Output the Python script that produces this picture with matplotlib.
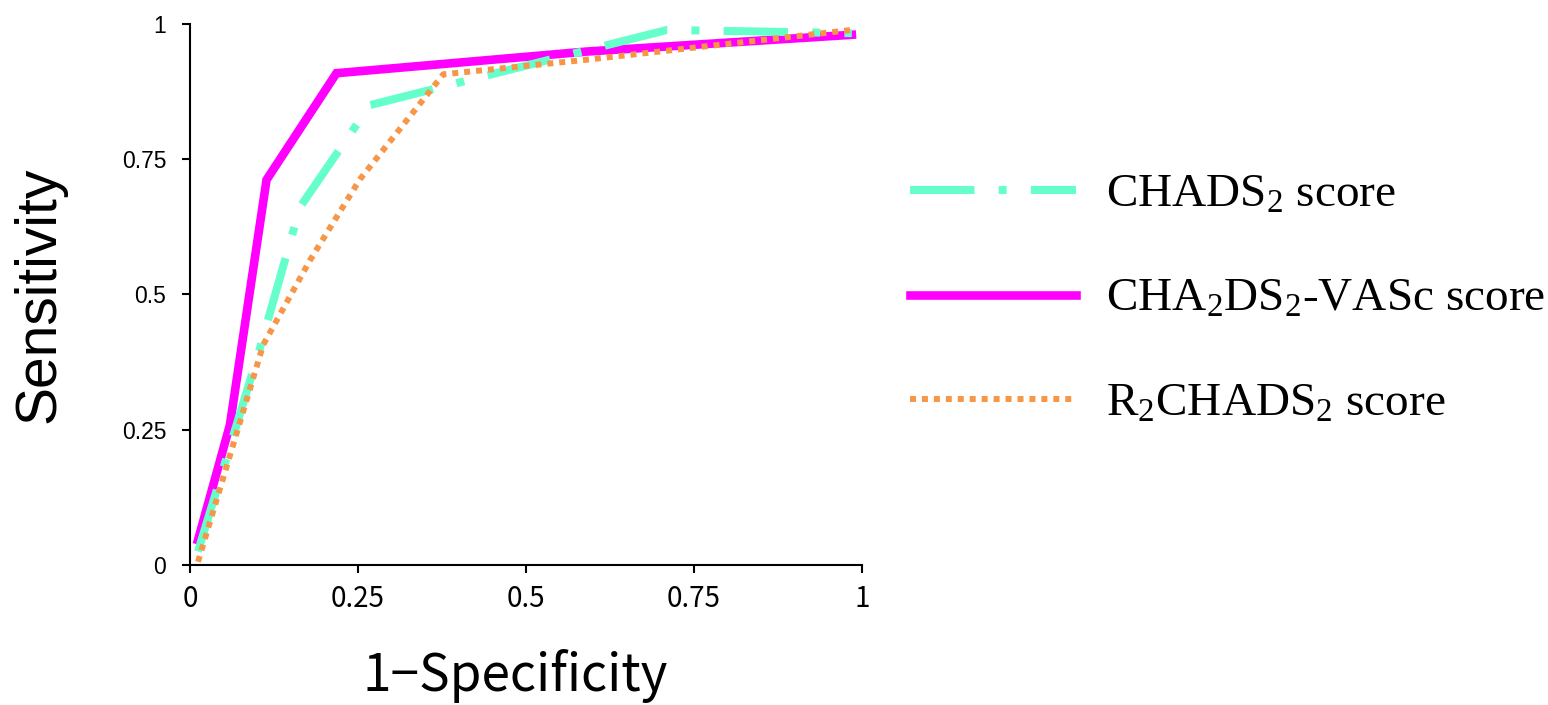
import matplotlib
matplotlib.use("Agg")
import matplotlib.pyplot as plt

plt.rcParams['mathtext.fontset'] = 'custom'
plt.rcParams['mathtext.rm'] = 'Liberation Serif'
plt.rcParams['mathtext.it'] = 'Liberation Serif:italic'

# ROC points (1-specificity, sensitivity)
fpr_chads2 = [0.012, 0.104, 0.164, 0.268, 0.71, 0.985]
tpr_chads2 = [0.025, 0.400, 0.662, 0.850, 0.989, 0.983]

fpr_vasc = [0.012, 0.0595, 0.114, 0.218, 0.59, 0.985]
tpr_vasc = [0.046, 0.259, 0.712, 0.909, 0.949, 0.980]

fpr_r2 = [0.012, 0.109, 0.179, 0.253, 0.377, 0.591, 0.985]
tpr_r2 = [0.006, 0.407, 0.564, 0.713, 0.907, 0.934, 0.989]

labels = ['CHADS$_\\mathrm{2}$ score',
          'CHA$_\\mathrm{2}$DS$_\\mathrm{2}$-VASc score',
          'R$_\\mathrm{2}$CHADS$_\\mathrm{2}$ score']
ticks = [0, 0.25, 0.5, 0.75, 1]
tick_labels = ['0', '0.25', '0.5', '0.75', '1']

fig = plt.figure(figsize=(15.48, 7.05), dpi=100)
ax = fig.add_axes([0.1227, 0.1986, 0.4341, 0.7674])

l_vasc, = ax.plot(fpr_vasc, tpr_vasc, color='#FF00FF', lw=6.2,
                  solid_joinstyle='miter', zorder=2, clip_on=False)
l_chads, = ax.plot(fpr_chads2, tpr_chads2, color='#66FFCC', lw=5.8,
                   dashes=(8, 3, 1, 3), zorder=3, clip_on=False)
l_r2, = ax.plot(fpr_r2, tpr_r2, color='#F79646', lw=4.3,
                dashes=(1, 1), zorder=4, clip_on=False)

ax.set_xlim(0, 1)
ax.set_ylim(0, 1)
ax.set_xticks(ticks)
ax.set_xticklabels(tick_labels, fontsize=20, family='Noto Sans CJK JP')
ax.set_yticks(ticks)
ax.set_yticklabels(tick_labels, fontsize=16.5, family='Liberation Sans')
ax.tick_params(direction='out', length=6, width=1.5, pad=8)
ax.tick_params(axis='y', pad=11)
for s in ['top', 'right']:
    ax.spines[s].set_visible(False)
for s in ['left', 'bottom']:
    ax.spines[s].set_linewidth(1.5)

ax.set_ylabel('Sensitivity', fontsize=41, family='Liberation Sans')
ax.yaxis.set_label_coords(-0.183, 0.5)
ax.set_xlabel('1\u2212Specificity', fontsize=37, family='Noto Sans CJK JP', va='top')
ax.xaxis.set_label_coords(0.484, -0.155)

fig.legend([l_chads, l_vasc, l_r2], labels, loc='center left',
           bbox_to_anchor=(0.588, 0.575), frameon=False,
           prop={'family': 'Liberation Serif', 'size': 34},
           handlelength=3.5, handletextpad=0.65, labelspacing=1.3,
           borderpad=0, borderaxespad=0)

fig.savefig('out.png', dpi=100)
